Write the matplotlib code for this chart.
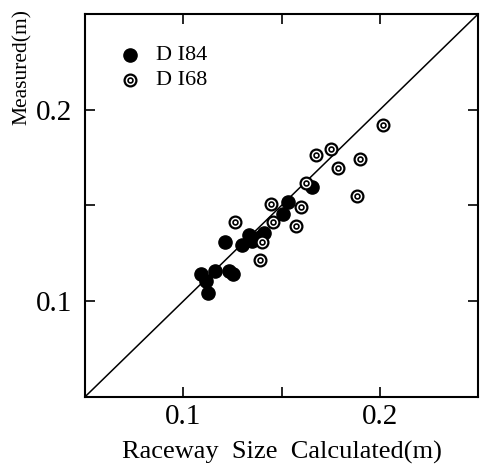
import matplotlib
matplotlib.use("Agg")
import matplotlib.pyplot as plt
from matplotlib.ticker import FixedLocator, FixedFormatter

plt.rcParams['font.family'] = ['Liberation Serif', 'DejaVu Serif']

# DI84 (filled)
di84_calc = [0.109, 0.1115, 0.1127, 0.1163, 0.1232, 0.1252, 0.121, 0.1297,
             0.1335, 0.1352, 0.141, 0.139, 0.151, 0.1532, 0.1657]
di84_meas = [0.1141, 0.1106, 0.1042, 0.116, 0.1158, 0.1141, 0.1311, 0.1293,
             0.1345, 0.1314, 0.1354, 0.1335, 0.1453, 0.1516, 0.1597]

# DI68 (bullseye)
di68_calc = [0.1263, 0.1447, 0.1455, 0.1403, 0.1393, 0.1597, 0.1572,
             0.1622, 0.1677, 0.1752, 0.1785, 0.1897, 0.1882, 0.2015]
di68_meas = [0.1411, 0.151, 0.1411, 0.1311, 0.1214, 0.1493, 0.1392,
             0.1615, 0.1766, 0.1793, 0.1696, 0.1745, 0.1547, 0.1922]

lims = [0.05, 0.25]
ticks = [0.1, 0.15, 0.2]
tick_labels = ['0.1', '', '0.2']

fig = plt.figure(figsize=(4.8, 4.68), dpi=100)
ax = fig.add_axes([0.177, 0.152, 0.819, 0.818])

ax.plot(lims, lims, color='black', lw=1.1, zorder=1)

ax.plot(di84_calc, di84_meas, 'o', ms=9.5, color='black', mec='black', zorder=3)
ax.plot(di68_calc, di68_meas, 'o', ms=8.5, mfc='white', mec='black', mew=1.6, zorder=4)
ax.plot(di68_calc, di68_meas, 'o', ms=3.5, mfc='white', mec='black', mew=1.2, zorder=5)

# legend drawn by hand
ax.plot([0.073], [0.2285], 'o', ms=9.5, color='black')
ax.plot([0.073], [0.2155], 'o', ms=8.5, mfc='white', mec='black', mew=1.6)
ax.plot([0.073], [0.2155], 'o', ms=3.5, mfc='white', mec='black', mew=1.2)
ax.text(0.086, 0.2285, 'D I84', fontsize=16, va='center')
ax.text(0.086, 0.2155, 'D I68', fontsize=16, va='center')

ax.set_xlim(lims)
ax.set_ylim(lims)
for axis in (ax.xaxis, ax.yaxis):
    axis.set_major_locator(FixedLocator(ticks))
    axis.set_major_formatter(FixedFormatter(tick_labels))
ax.tick_params(direction='in', length=7, width=1.2, top=True, right=True,
               labelsize=21)
ax.tick_params(axis='x', pad=5)
ax.tick_params(axis='y', pad=9)

for s in ax.spines.values():
    s.set_linewidth(1.5)

ax.set_xlabel('Raceway  Size  Calculated(m)', fontsize=19, labelpad=8)
fig.text(22 / 480, 1 - 67 / 468, 'Measured(m)', fontsize=15.5, rotation=90,
         ha='center', va='center')

fig.savefig('out.png', dpi=100)
